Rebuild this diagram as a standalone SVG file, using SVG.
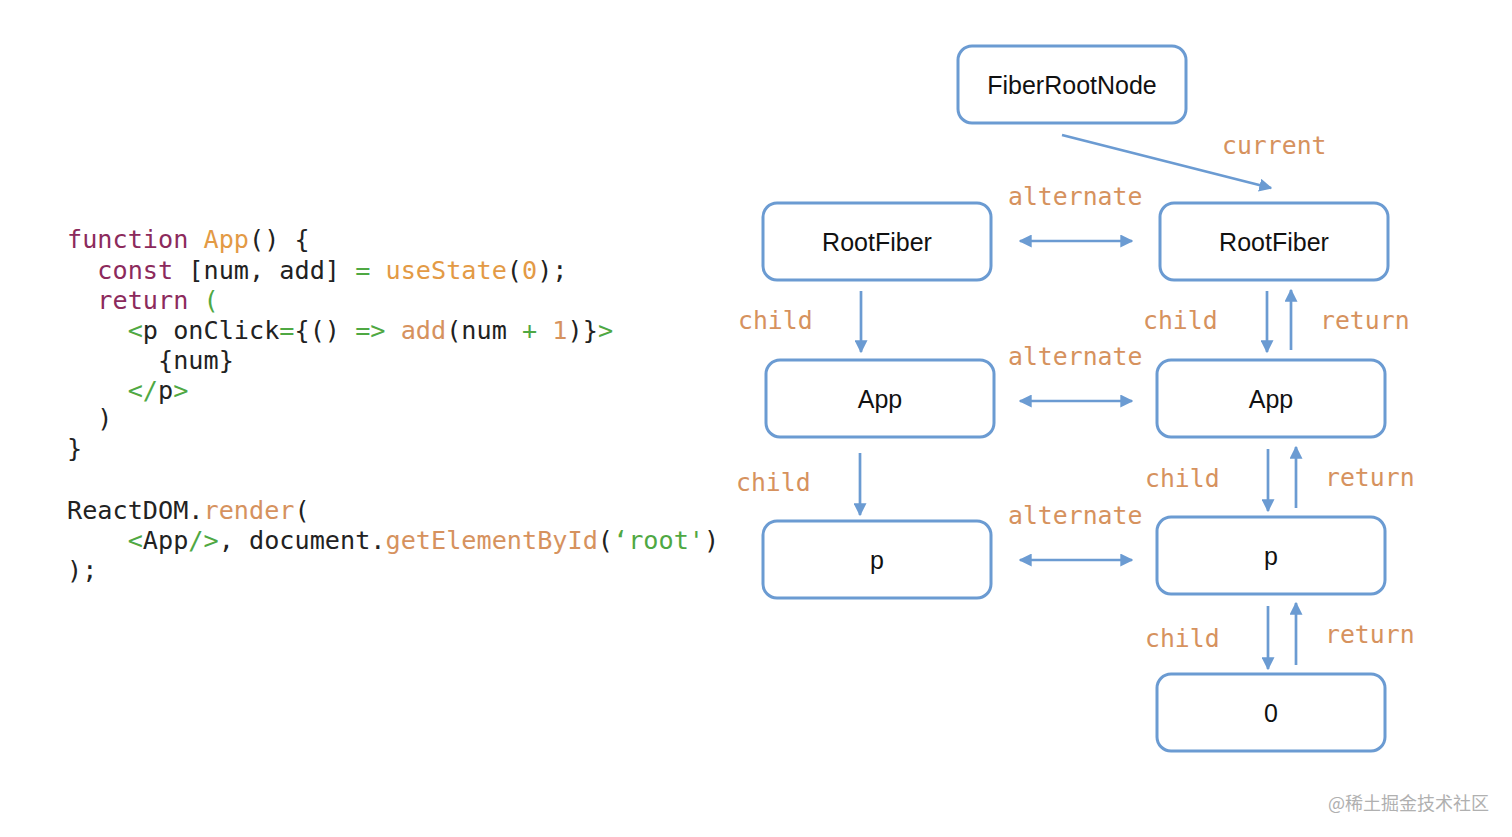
<svg xmlns="http://www.w3.org/2000/svg" width="1512" height="837" viewBox="0 0 1512 837">
<defs>
<marker id="ah" viewBox="0 0 10 10" refX="9" refY="5" markerWidth="13" markerHeight="13" markerUnits="userSpaceOnUse" orient="auto-start-reverse">
<path d="M0,0 L10,5 L0,10 z" fill="#6b9bd2"/>
</marker>
<style>
.box{fill:#fff;stroke:#6b9bd2;stroke-width:3}
.nt{font-family:"Liberation Sans",Arial,sans-serif;font-size:25px;fill:#111;text-anchor:middle}
.lbl{font-family:"DejaVu Sans Mono",monospace;font-size:24.8px;fill:#d6925e}
.code{font-family:"DejaVu Sans Mono",monospace;font-size:25.2px;fill:#222;white-space:pre}
.k{fill:#8c2a5c}.o{fill:#e39a45}.g{fill:#4fa843}.r{fill:#d6925e}
.cn line{stroke:#6b9bd2;stroke-width:2.7;fill:none}
</style>
</defs>
<rect width="1512" height="837" fill="#fff"/>
<g id="code">
<text class="code" xml:space="preserve" x="67" y="248"><tspan class="k">function</tspan> <tspan class="o">App</tspan>() {</text>
<text class="code" xml:space="preserve" x="67" y="279">  <tspan class="k">const</tspan> [num, add] <tspan class="g">=</tspan> <tspan class="o">useState</tspan>(<tspan class="o">0</tspan>);</text>
<text class="code" xml:space="preserve" x="67" y="309">  <tspan class="k">return</tspan> <tspan class="g">(</tspan></text>
<text class="code" xml:space="preserve" x="67" y="339">    <tspan class="g">&lt;</tspan>p onClick<tspan class="g">=</tspan>{() <tspan class="g">=&gt;</tspan> <tspan class="r">add</tspan>(num <tspan class="g">+</tspan> <tspan class="r">1</tspan>)}<tspan class="g">&gt;</tspan></text>
<text class="code" xml:space="preserve" x="67" y="369">      {num}</text>
<text class="code" xml:space="preserve" x="67" y="399">    <tspan class="g">&lt;/</tspan>p<tspan class="g">&gt;</tspan></text>
<text class="code" xml:space="preserve" x="67" y="427">  )</text>
<text class="code" xml:space="preserve" x="67" y="457">}</text>
<text class="code" xml:space="preserve" x="67" y="519">ReactDOM.<tspan class="r">render</tspan>(</text>
<text class="code" xml:space="preserve" x="67" y="549">    <tspan class="g">&lt;</tspan>App<tspan class="g">/&gt;</tspan>, document.<tspan class="r">getElementById</tspan>(<tspan class="g">‘root'</tspan>)</text>
<text class="code" xml:space="preserve" x="67" y="579">);</text>
</g>
<g id="connectors" class="cn">
<line x1="1062" y1="135" x2="1271" y2="188" marker-end="url(#ah)"/>
<line x1="1020" y1="241" x2="1132" y2="241" marker-start="url(#ah)" marker-end="url(#ah)"/>
<line x1="1020" y1="401" x2="1132" y2="401" marker-start="url(#ah)" marker-end="url(#ah)"/>
<line x1="1020" y1="560" x2="1132" y2="560" marker-start="url(#ah)" marker-end="url(#ah)"/>
<line x1="861" y1="291" x2="861" y2="352" marker-end="url(#ah)"/>
<line x1="860" y1="453" x2="860" y2="515" marker-end="url(#ah)"/>
<line x1="1267" y1="291" x2="1267" y2="352" marker-end="url(#ah)"/>
<line x1="1291" y1="350" x2="1291" y2="290" marker-end="url(#ah)"/>
<line x1="1268" y1="449" x2="1268" y2="511" marker-end="url(#ah)"/>
<line x1="1296" y1="508" x2="1296" y2="447" marker-end="url(#ah)"/>
<line x1="1268" y1="606" x2="1268" y2="669" marker-end="url(#ah)"/>
<line x1="1296" y1="665" x2="1296" y2="603" marker-end="url(#ah)"/>
</g>
<g id="labels">
<text class="lbl" x="1222" y="154">current</text>
<text class="lbl" x="1008" y="205">alternate</text>
<text class="lbl" x="1008" y="365">alternate</text>
<text class="lbl" x="1008" y="524">alternate</text>
<text class="lbl" x="738" y="329">child</text>
<text class="lbl" x="736" y="491">child</text>
<text class="lbl" x="1143" y="329">child</text>
<text class="lbl" x="1145" y="487">child</text>
<text class="lbl" x="1145" y="647">child</text>
<text class="lbl" x="1320" y="329">return</text>
<text class="lbl" x="1325" y="486">return</text>
<text class="lbl" x="1325" y="643">return</text>
</g>
<g id="n-fiberroot"><rect class="box" x="958" y="46" width="228" height="77" rx="14"/><text class="nt" x="1072" y="94">FiberRootNode</text></g>
<g id="n-rootfiber-l"><rect class="box" x="763" y="203" width="228" height="77" rx="14"/><text class="nt" x="877" y="251">RootFiber</text></g>
<g id="n-rootfiber-r"><rect class="box" x="1160" y="203" width="228" height="77" rx="14"/><text class="nt" x="1274" y="251">RootFiber</text></g>
<g id="n-app-l"><rect class="box" x="766" y="360" width="228" height="77" rx="14"/><text class="nt" x="880" y="408">App</text></g>
<g id="n-app-r"><rect class="box" x="1157" y="360" width="228" height="77" rx="14"/><text class="nt" x="1271" y="408">App</text></g>
<g id="n-p-l"><rect class="box" x="763" y="521" width="228" height="77" rx="14"/><text class="nt" x="877" y="569">p</text></g>
<g id="n-p-r"><rect class="box" x="1157" y="517" width="228" height="77" rx="14"/><text class="nt" x="1271" y="565">p</text></g>
<g id="n-zero"><rect class="box" x="1157" y="674" width="228" height="77" rx="14"/><text class="nt" x="1271" y="722">0</text></g>
<text x="1328" y="810" font-family="'Noto Sans CJK SC',sans-serif" font-size="18" fill="#b0b0b0">@稀土掘金技术社区</text>
</svg>
